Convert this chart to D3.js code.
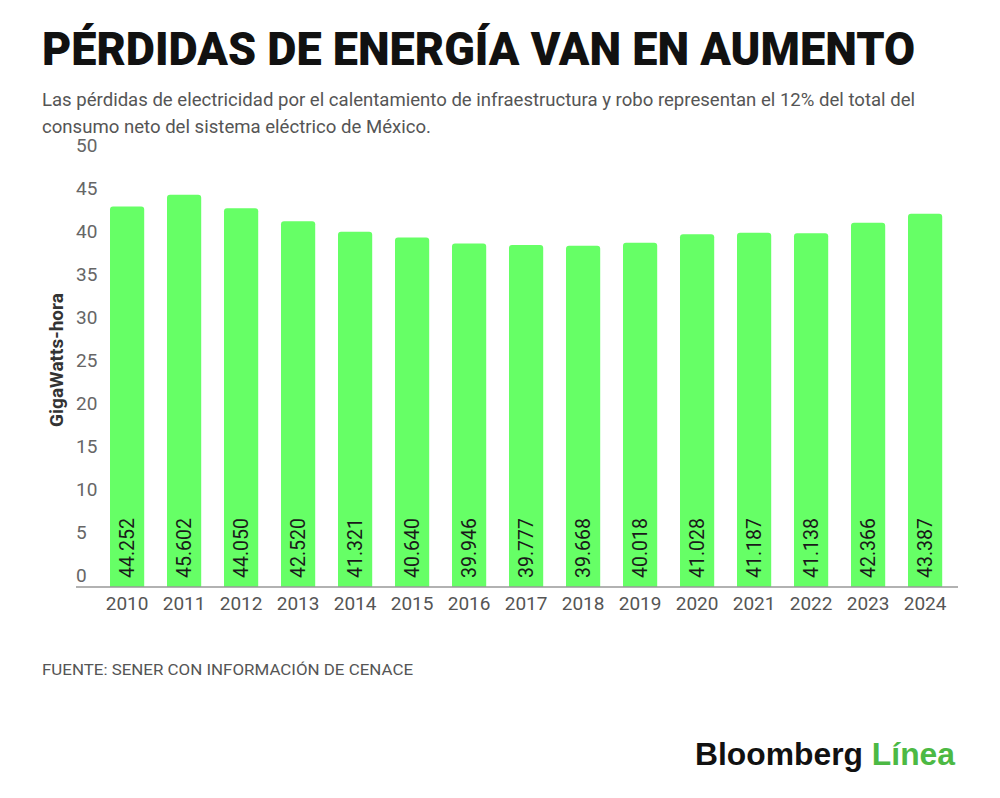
<!DOCTYPE html>
<html>
<head>
<meta charset="utf-8">
<script src="https://cdn.jsdelivr.net/npm/d3@7"></script>
<style>
  body { margin: 0; background: #fff; }
  svg { display: block; }
</style>
</head>
<body>
<svg id="chart" width="1000" height="798"></svg>
<script>
// data
var years = ["2010", "2011", "2012", "2013", "2014", "2015", "2016", "2017", "2018", "2019", "2020", "2021", "2022", "2023", "2024"]
var losses = [44.252, 45.602, 44.050, 42.520, 41.321, 40.640, 39.946, 39.777, 39.668, 40.018, 41.028, 41.187, 41.138, 42.366, 43.387]
var yTicks = [0, 5, 10, 15, 20, 25, 30, 35, 40, 45, 50]

var data = years.map(function(y, i){ return {year: y, value: losses[i]} })

var svg = d3.select("#chart")

var x = d3.scaleBand()
    .domain(years)
    .range([98.6, 953.6])
    .paddingInner(0.4)
    .paddingOuter(0.2)

var y = d3.scaleLinear()
    .domain([0, 50])
    .range([587, 157])

// title + subtitle
svg.append("text")
    .attr("x", 42).attr("y", 65)
    .attr("font-family", "Roboto, 'Liberation Sans', sans-serif")
    .attr("font-weight", 900)
    .attr("font-size", 46)
    .attr("fill", "#111")
    .attr("textLength", 873)
    .attr("lengthAdjust", "spacingAndGlyphs")
    .text("PÉRDIDAS DE ENERGÍA VAN EN AUMENTO")

var sub = ["Las pérdidas de electricidad por el calentamiento de infraestructura y robo representan el 12% del total del",
           "consumo neto del sistema eléctrico de México."]
var subLen = [873, 389]
svg.selectAll(".sub")
    .data(sub)
    .enter()
    .append("text")
    .attr("class", "sub")
    .attr("x", 42)
    .attr("y", function(d, i){ return 106 + i * 27 })
    .attr("font-family", "Roboto, sans-serif")
    .attr("font-size", 18)
    .attr("fill", "#555")
    .attr("textLength", function(d, i){ return subLen[i] })
    .attr("lengthAdjust", "spacingAndGlyphs")
    .text(function(d){ return d })

// y tick labels (drawn a bit above their values, as in the original)
svg.selectAll(".ytick")
    .data(yTicks)
    .enter()
    .append("text")
    .attr("class", "ytick")
    .attr("x", 76)
    .attr("y", function(d){ return y(d) - 5 })
    .attr("font-family", "Roboto, sans-serif")
    .attr("font-size", 19)
    .attr("fill", "#666")
    .text(function(d){ return d })

svg.append("text")
    .attr("transform", "translate(63,360) rotate(-90)")
    .attr("text-anchor", "middle")
    .attr("font-family", "Roboto, sans-serif")
    .attr("font-weight", "bold")
    .attr("font-size", 19)
    .attr("fill", "#333")
    .text("GigaWatts-hora")

// bars with slightly rounded tops
function barPath(d){
    var x0 = x(d.year), w = x.bandwidth(), y0 = y(d.value), b = y(0), r = 3
    return "M" + x0 + "," + b +
        "V" + (y0 + r) +
        "Q" + x0 + "," + y0 + " " + (x0 + r) + "," + y0 +
        "H" + (x0 + w - r) +
        "Q" + (x0 + w) + "," + y0 + " " + (x0 + w) + "," + (y0 + r) +
        "V" + b + "Z"
}

svg.selectAll(".bar")
    .data(data)
    .enter()
    .append("path")
    .attr("class", "bar")
    .attr("d", barPath)
    .attr("fill", "#66ff66")

svg.selectAll(".val")
    .data(data)
    .enter()
    .append("text")
    .attr("class", "val")
    .attr("transform", function(d){
        return "translate(" + (x(d.year) + x.bandwidth() / 2) + "," + (y(0) - 9) + ") rotate(-90)"
    })
    .attr("dy", "0.35em")
    .attr("font-family", "Roboto, sans-serif")
    .attr("font-size", 19.5)
    .attr("fill", "#1a1a1a")
    .text(function(d){ return d3.format(".3f")(d.value) })

// x axis
var xAxis = svg.append("g")
    .attr("transform", "translate(0," + y(0) + ")")
    .call(d3.axisBottom(x).tickSize(0).tickPadding(10))
xAxis.select(".domain").remove()
xAxis.selectAll("text")
    .attr("font-family", "Roboto, sans-serif")
    .attr("font-size", 19)
    .attr("fill", "#555")

svg.append("line")
    .attr("x1", 76).attr("x2", 958)
    .attr("y1", y(0)).attr("y2", y(0))
    .attr("stroke", "#999")
    .attr("stroke-width", 1.5)

// footer
svg.append("text")
    .attr("x", 42).attr("y", 675)
    .attr("font-family", "Roboto, sans-serif")
    .attr("font-size", 14)
    .attr("fill", "#555")
    .attr("textLength", 371)
    .attr("lengthAdjust", "spacingAndGlyphs")
    .text("FUENTE: SENER CON INFORMACIÓN DE CENACE")

var logo = svg.append("text")
    .attr("x", 695).attr("y", 765)
    .attr("font-family", "'Liberation Sans', Arial, sans-serif")
    .attr("font-weight", "bold")
    .attr("font-size", 31)
    .attr("textLength", 260)
    .attr("lengthAdjust", "spacingAndGlyphs")
logo.append("tspan").attr("fill", "#111").text("Bloomberg ")
logo.append("tspan").attr("fill", "#4cb944").text("Línea")
</script>
</body>
</html>
